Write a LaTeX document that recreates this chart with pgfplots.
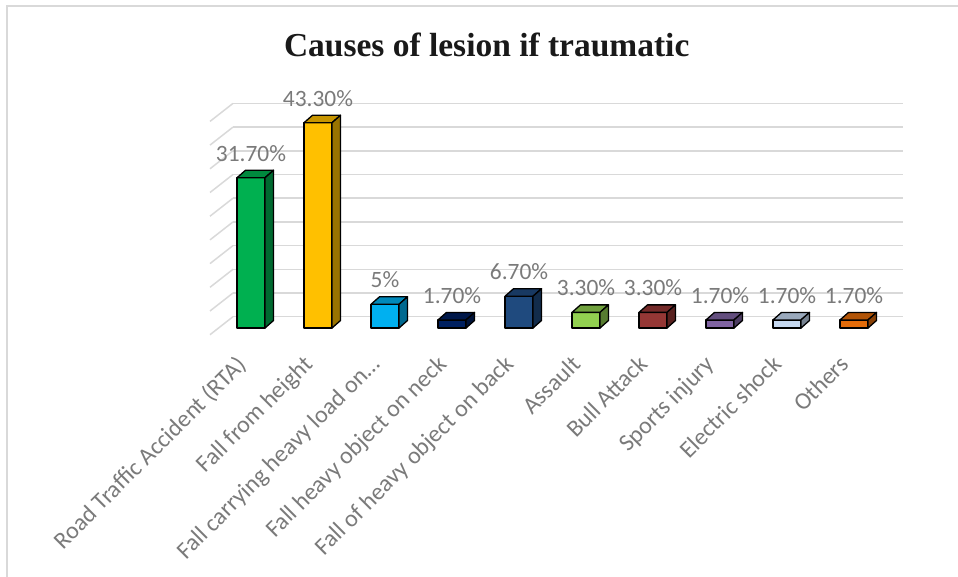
\documentclass[border=0pt]{standalone}
\usepackage{fontspec}
\usepackage{pgfplots}
\pgfplotsset{compat=1.18}
\setmainfont{Carlito}
\newfontfamily\titlefont{Liberation Serif}

\definecolor{gridgray}{HTML}{D9D9D9}
\definecolor{labelgray}{HTML}{7A7A7A}
\definecolor{framegray}{HTML}{D9D9D9}
\definecolor{c0}{HTML}{00B050}
\definecolor{c1}{HTML}{FFC000}
\definecolor{c2}{HTML}{00B0F0}
\definecolor{c3}{HTML}{002060}
\definecolor{c4}{HTML}{1F4A7E}
\definecolor{c5}{HTML}{92D050}
\definecolor{c6}{HTML}{953735}
\definecolor{c7}{HTML}{8064A2}
\definecolor{c8}{HTML}{C6D9F1}
\definecolor{c9}{HTML}{E46C0A}

% 3D column: front face, top face and side face, drawn below the data point
% (the point itself sits on the back wall plane); \ry is the column value
\newcommand\yunit{4.74}
\newcommand\darken[1]{%
  \pgfsetfillcolor{black}\pgfsetfillopacity{#1}\pgfusepath{fill}}
\newcommand\toppath{%
  \pgfpathmoveto{\pgfpoint{-14bp}{-11.3bp}}%
  \pgfpathlineto{\pgfpoint{14bp}{-11.3bp}}%
  \pgfpathlineto{\pgfpoint{22.5bp}{-3.8bp}}%
  \pgfpathlineto{\pgfpoint{-5.5bp}{-3.8bp}}%
  \pgfpathclose}
\newcommand\sidepath{%
  \pgfpathmoveto{\pgfpoint{14bp}{-11.3bp}}%
  \pgfpathlineto{\pgfpoint{22.5bp}{-3.8bp}}%
  \pgfpathlineto{\pgfpoint{22.5bp}{-3.8bp-\bh bp}}%
  \pgfpathlineto{\pgfpoint{14bp}{-11.3bp-\bh bp}}%
  \pgfpathclose}
\pgfdeclareplotmark{box3d}{%
  \pgfmathsetmacro\bh{\ry*\yunit}%
  % front face
  \pgfpathrectanglecorners{\pgfpoint{-14bp}{-11.3bp}}{\pgfpoint{14bp}{-11.3bp-\bh bp}}%
  \pgfusepath{fill,stroke}%
  % top face
  \toppath\pgfusepath{fill}%
  \begin{pgfscope}\toppath\darken{0.22}\end{pgfscope}%
  \toppath\pgfusepath{stroke}%
  % side face
  \sidepath\pgfusepath{fill}%
  \begin{pgfscope}\sidepath\darken{0.4}\end{pgfscope}%
  \sidepath\pgfusepath{stroke}%
}

\pgfplotsset{
  column/.style={
    scatter, only marks, mark=box3d,
    scatter/@pre marker code/.code={},
    scatter/@post marker code/.code={},
    visualization depends on={rawy \as \ry},
    mark options={fill=#1, draw=black, line width=1.3bp, line join=round},
  },
}

\begin{document}
\begin{tikzpicture}
\useasboundingbox (0,0) rectangle (958bp,577bp);
\draw[framegray, line width=1.6bp] (7bp,0) -- (7bp,571bp) -- (958bp,571bp);
\node[anchor=base, font={\titlefont\bfseries\fontsize{33.6pt}{38pt}\selectfont}, text=black!90]
  at (486.7bp,520.3bp) {Causes of lesion if traumatic};

\begin{axis}[
  at={(233bp,260.3bp)}, anchor=south west,
  x=67bp, y=4.74bp,
  xmin=-0.2687, xmax=9.7313, ymin=0, ymax=45,
  enlargelimits=false, clip=false,
  axis lines*=left, axis line style={draw=none}, tick style={draw=none},
  ytick={0,5,...,45}, yticklabels={},
  ymajorgrids, major grid style={gridgray, line width=1.5bp},
  xtick={0,...,9},
  xticklabels={Road Traffic Accident (RTA), Fall from height, Fall carrying heavy load on…,
    Fall heavy object on neck, Fall of heavy object on back, Assault, Bull Attack,
    Sports injury, Electric shock, Others},
  xticklabel style={yshift=-37bp, xshift=-16bp, rotate=45, anchor=north east, inner sep=0pt,
    text=labelgray, font=\fontsize{24.1pt}{28pt}\selectfont},
  nodes near coords style={anchor=center, yshift=13bp, inner sep=0pt,
    text=labelgray, font=\fontsize{23.5pt}{27pt}\selectfont},
]
% side wall of the grid
\pgfplotsinvokeforeach{0,5,...,45}{
  \draw[gridgray, line width=1.5bp] (axis cs:-0.2687,#1) -- ++(-23bp,-18bp);
}
\addplot[column=c0, nodes near coords={31.70\%}] coordinates {(0,31.7)};
\addplot[column=c1, nodes near coords={43.30\%}] coordinates {(1,43.3)};
\addplot[column=c2, nodes near coords={5\%}]     coordinates {(2,5)};
\addplot[column=c3, nodes near coords={1.70\%}]  coordinates {(3,1.7)};
\addplot[column=c4, nodes near coords={6.70\%}]  coordinates {(4,6.7)};
\addplot[column=c5, nodes near coords={3.30\%}]  coordinates {(5,3.3)};
\addplot[column=c6, nodes near coords={3.30\%}]  coordinates {(6,3.3)};
\addplot[column=c7, nodes near coords={1.70\%}]  coordinates {(7,1.7)};
\addplot[column=c8, nodes near coords={1.70\%}]  coordinates {(8,1.7)};
\addplot[column=c9, nodes near coords={1.70\%}]  coordinates {(9,1.7)};
\end{axis}
\end{tikzpicture}
\end{document}
